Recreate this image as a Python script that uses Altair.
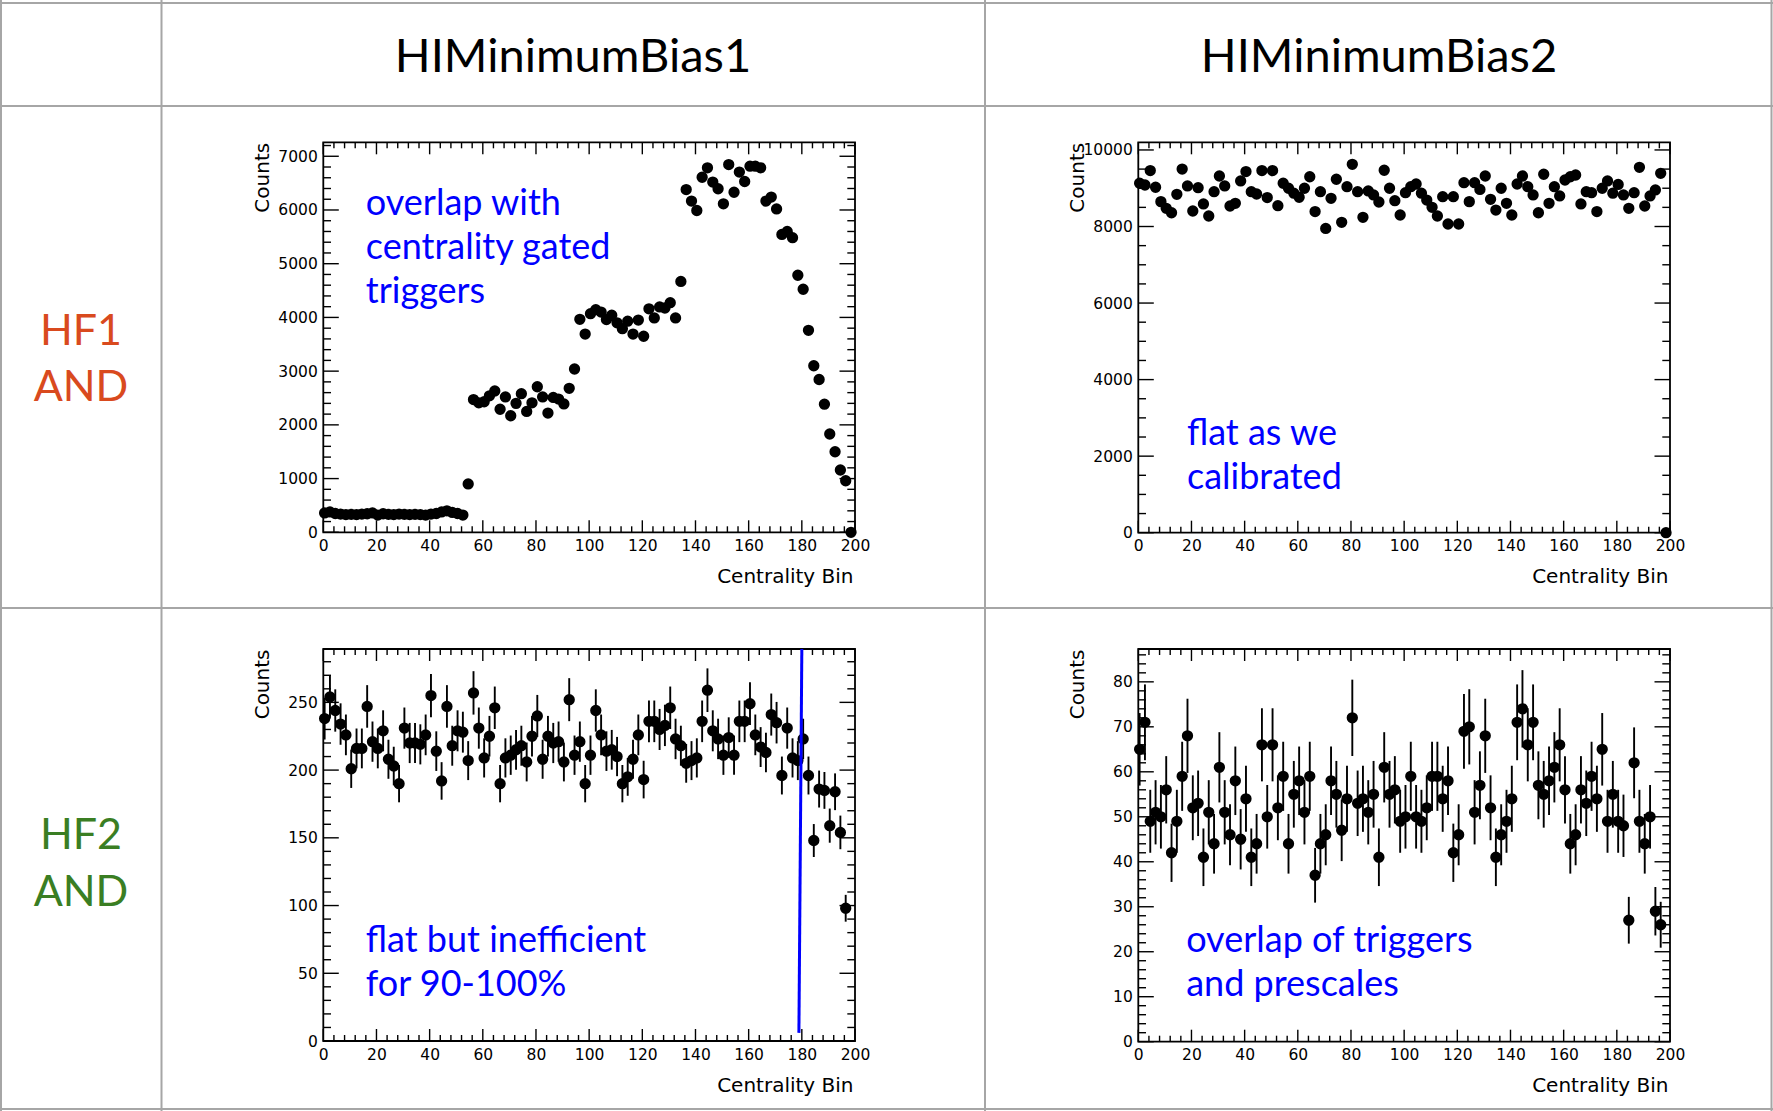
import altair as alt
import pandas as pd

# ------------------------------------------------------------------ data
# 100 centrality bins of width 2 (centres 0.5, 2.5, ..., 198.5)
BIN_CENTERS = [0.5 + 2 * k for k in range(100)]

HF1_MINBIAS1 = [
    360, 380, 350, 340, 330, 335, 330, 340, 345, 360,
    320, 345, 335, 330, 340, 335, 330, 335, 330, 320,
    340, 350, 380, 400, 370, 350, 320, 900, 2470, 2410,
    2430, 2540, 2630, 2290, 2520, 2170, 2400, 2580, 2250, 2410,
    2710, 2520, 2220, 2510, 2480, 2390, 2680, 3040, 3965, 3690,
    4070, 4145, 4100, 3960, 4040, 3900, 3790, 3930, 3690, 3950,
    3650, 4160, 3990, 4195, 4175, 4275, 3990, 4670, 6380, 6165,
    5990, 6610, 6785, 6520, 6395, 6115, 6845, 6330, 6705, 6530,
    6815, 6815, 6785, 6165, 6240, 6020, 5545, 5600, 5485, 4785,
    4525, 3760, 3100, 2845, 2385, 1830, 1500, 1160, 960, 0,
]

HF1_MINBIAS2 = [
    9130, 9085, 9460, 9025, 8650, 8475, 8360, 8840, 9500, 9060,
    8405, 9015, 8590, 8275, 8910, 9320, 9060, 8535, 8605, 9190,
    9435, 8910, 8850, 9460, 8755, 9460, 8545, 9130, 9000, 8870,
    8765, 9000, 9300, 8390, 8910, 7950, 8735, 9235, 8110, 9040,
    9625, 8910, 8240, 8930, 8825, 8640, 9470, 9000, 8675, 8300,
    8885, 9040, 9110, 8870, 8690, 8500, 8275, 8780, 8065, 8780,
    8065, 9145, 8650, 9145, 8970, 9320, 8710, 8430, 9000, 8605,
    8300, 9110, 9320, 9040, 8825, 8360, 9365, 8605, 9040, 8800,
    9215, 9300, 9345, 8590, 8910, 8885, 8390, 9000, 9190, 8870,
    9100, 8825, 8475, 8885, 9545, 8535, 8800, 8955, 9390, 0,
]

HF2_MINBIAS1 = [
    238, 254, 244, 234, 226, 201, 216, 216, 247, 221,
    216, 229, 208, 203, 190, 231, 220, 220, 219, 226,
    255, 214, 192, 247, 218, 229, 228, 207, 257, 231,
    209, 225, 246, 190, 209, 211, 215, 218, 206, 225,
    240, 208, 225, 220, 221, 206, 252, 211, 221, 190,
    211, 244, 226, 214, 215, 210, 190, 195, 208, 226,
    193, 236, 236, 230, 233, 246, 223, 218, 205, 207,
    209, 236, 259, 229, 223, 211, 224, 211, 236, 236,
    249, 226, 217, 213, 241, 235, 196, 231, 209, 207,
    223, 196, 148, 186, 185, 159, 184, 154, 98, None,
]

HF2_MINBIAS2 = [
    65, 71, 49, 51, 50, 56, 42, 49, 59, 68,
    52, 53, 41, 51, 44, 61, 51, 46, 58, 45,
    54, 41, 44, 66, 50, 66, 52, 59, 44, 55,
    58, 51, 59, 37, 44, 46, 58, 55, 47, 54,
    72, 53, 54, 51, 55, 41, 61, 55, 56, 49,
    50, 59, 50, 49, 52, 59, 59, 54, 58, 42,
    46, 69, 70, 51, 57, 68, 52, 41, 46, 49,
    54, 71, 74, 66, 71, 57, 55, 58, 61, 66,
    56, 44, 46, 56, 53, 59, 54, 65, 49, 55,
    49, 48, 27, 62, 49, 44, 50, 29, 26, None,
]

COLUMN_TITLES = ["HIMinimumBias1", "HIMinimumBias2"]
ROW_TITLES = [["HF1", "AND"], ["HF2", "AND"]]

NOTE_HF1_MB1 = ["overlap with", "centrality gated", "triggers"]
NOTE_HF1_MB2 = ["flat as we", "calibrated"]
NOTE_HF2_MB1 = ["flat but inefficient", "for 90-100%"]
NOTE_HF2_MB2 = ["overlap of triggers", "and prescales"]

# hand-drawn cut near centrality bin 180: (bin, count) at top and bottom
CUT_LINE_BINS = [180.0, 178.9]
CUT_LINE_COUNTS = [289.4, 6]

X_MAJOR = list(range(0, 201, 20))
X_MINOR = [v for v in range(0, 201, 4) if v % 20]

# ------------------------------------------------------------------ style
W, H = 1773, 1111
GRID = "#a6a6a6"
ROOT_FONT = "DejaVu Sans"
SLIDE_FONT = "Lato"
NOTE_FONT = "Lato"
NOTE_BLUE = "#0000FF"
ROW_COLORS = ["#D94A1E", "#3A7E23"]


def panel(counts, x0, x1, top, bottom, y_max, y_major, y_minor,
          note, note_at, with_errors, cut=False):
    xs = alt.Scale(domain=[0, 200], range=[x0, x1], nice=False, zero=False)
    ys = alt.Scale(domain=[0, y_max], range=[bottom, top], nice=False, zero=False)

    def xd(v):
        return alt.XDatum(v, scale=xs, type="quantitative", axis=None)

    def yd(v):
        return alt.YDatum(v, scale=ys, type="quantitative", axis=None)

    y_major_vals = list(range(0, int(y_max) + 1, y_major))
    y_minor_vals = [v for v in range(0, int(y_max) + 1, y_minor) if v % y_major]

    layers = []

    # frame
    layers.append(
        alt.Chart().mark_rect(fillOpacity=0, stroke="black", strokeWidth=1.8).encode(
            x=xd(0), x2=alt.X2Datum(200), y=yd(0), y2=alt.Y2Datum(y_max)
        )
    )

    # inward ticks on all four sides
    def xticks(vals, length, at_top):
        edge = y_max if at_top else 0
        return alt.Chart(pd.DataFrame({"t": vals})).mark_rule(
            color="black", strokeWidth=1.4, y2Offset=length if at_top else -length
        ).encode(x=alt.X("t:Q", scale=xs, axis=None), y=yd(edge), y2=alt.Y2Datum(edge))

    def yticks(vals, length, at_right):
        edge = 200 if at_right else 0
        return alt.Chart(pd.DataFrame({"t": vals})).mark_rule(
            color="black", strokeWidth=1.4, x2Offset=-length if at_right else length
        ).encode(y=alt.Y("t:Q", scale=ys, axis=None), x=xd(edge), x2=alt.X2Datum(edge))

    for at in (False, True):
        layers.append(xticks(X_MAJOR, 12, at))
        layers.append(xticks(X_MINOR, 6, at))
        layers.append(yticks(y_major_vals, 15.5, at))
        layers.append(yticks(y_minor_vals, 7.7, at))

    df = pd.DataFrame({"bin": BIN_CENTERS, "counts": counts}).dropna()
    base = alt.Chart(df)

    if with_errors:
        layers.append(
            base.transform_calculate(
                lo="datum.counts - sqrt(datum.counts)",
                hi="datum.counts + sqrt(datum.counts)",
            ).mark_rule(color="black", strokeWidth=1.9).encode(
                x=alt.X("bin:Q", scale=xs, axis=None),
                y=alt.Y("lo:Q", scale=ys, axis=None),
                y2="hi:Q",
            )
        )

    x_axis = alt.Axis(
        orient="bottom", offset=bottom - H, values=X_MAJOR, format="d",
        domain=False, ticks=False, tickSize=0, grid=False,
        labelPadding=6, labelFont=ROOT_FONT, labelFontSize=15.5, labelColor="black",
        labelFlush=False, labelOverlap=False,
        title="Centrality Bin", titleFont=ROOT_FONT, titleFontSize=20,
        titleFontWeight="normal", titleColor="black",
        titleAlign="right", titleBaseline="alphabetic", titleAngle=0,
        titleX=x1 - 2, titleY=50,
    )
    y_axis = alt.Axis(
        orient="left", offset=-x0, values=y_major_vals, format="d",
        domain=False, ticks=False, tickSize=0, grid=False,
        labelPadding=6, labelFont=ROOT_FONT, labelFontSize=15.5, labelColor="black",
        labelFlush=False, labelOverlap=False,
        title="Counts", titleFont=ROOT_FONT, titleFontSize=20,
        titleFontWeight="normal", titleColor="black",
        titleAlign="right", titleBaseline="alphabetic", titleAngle=270,
        titleX=-55, titleY=top,
    )
    layers.append(
        base.mark_circle(size=128, color="black", opacity=1).encode(
            x=alt.X("bin:Q", scale=xs, axis=x_axis),
            y=alt.Y("counts:Q", scale=ys, axis=y_axis),
        )
    )

    for i, line in enumerate(note):
        layers.append(
            alt.Chart().mark_text(
                text=line, align="left", baseline="alphabetic", dy=44 * i,
                font=NOTE_FONT, fontSize=36, color=NOTE_BLUE,
            ).encode(x=xd(note_at[0]), y=yd(note_at[1]))
        )

    if cut:
        layers.append(
            alt.Chart().mark_rule(color=NOTE_BLUE, strokeWidth=3).encode(
                x=xd(CUT_LINE_BINS[0]), x2=alt.X2Datum(CUT_LINE_BINS[1]),
                y=yd(CUT_LINE_COUNTS[0]), y2=alt.Y2Datum(CUT_LINE_COUNTS[1]),
            )
        )
    return layers


# ------------------------------------------------------------------ table
def hline(y):
    return alt.Chart().mark_rule(color=GRID, strokeWidth=2).encode(
        x=alt.value(0), x2=alt.value(W), y=alt.value(y))


def vline(x):
    return alt.Chart().mark_rule(color=GRID, strokeWidth=2).encode(
        x=alt.value(x), y=alt.value(0), y2=alt.value(H))


table = [hline(3), hline(106), hline(608), hline(1109),
         vline(1), vline(161.5), vline(985), vline(1771.5)]

headers = []
for title, cx in zip(COLUMN_TITLES, [573, 1379]):
    headers.append(
        alt.Chart().mark_text(
            text=title, align="center", baseline="alphabetic",
            font=SLIDE_FONT, fontSize=47, color="black",
        ).encode(x=alt.value(cx), y=alt.value(72))
    )
for lines, color, baselines in zip(ROW_TITLES, ROW_COLORS, [[345, 401], [849, 906]]):
    for line, yb in zip(lines, baselines):
        headers.append(
            alt.Chart().mark_text(
                text=line, align="center", baseline="alphabetic",
                font=SLIDE_FONT, fontSize=43, color=color,
            ).encode(x=alt.value(81), y=alt.value(yb))
        )

panels = []
panels += panel(HF1_MINBIAS1, 323.3, 855.0, 142.3, 532.3, 7260, 1000, 200,
                NOTE_HF1_MB1, (16, 5910), False)
panels += panel(HF1_MINBIAS2, 1138.3, 1670.0, 142.3, 532.7, 10200, 2000, 500,
                NOTE_HF1_MB2, (18.3, 2290), False)
panels += panel(HF2_MINBIAS1, 323.3, 855.0, 649.0, 1041.0, 289.4, 50, 10,
                NOTE_HF2_MB1, (16, 66), True, cut=True)
panels += panel(HF2_MINBIAS2, 1138.3, 1670.0, 649.0, 1041.7, 87.3, 10, 2,
                NOTE_HF2_MB2, (18, 20), True)

chart = (
    alt.layer(*table, *headers, *panels)
    .resolve_scale(x="independent", y="independent")
    .properties(width=W, height=H, padding=0,
                autosize=alt.AutoSizeParams(type="none"))
    .configure_view(strokeWidth=0)
)

chart.save("out.html", embed_options={"renderer": "svg", "actions": False})
